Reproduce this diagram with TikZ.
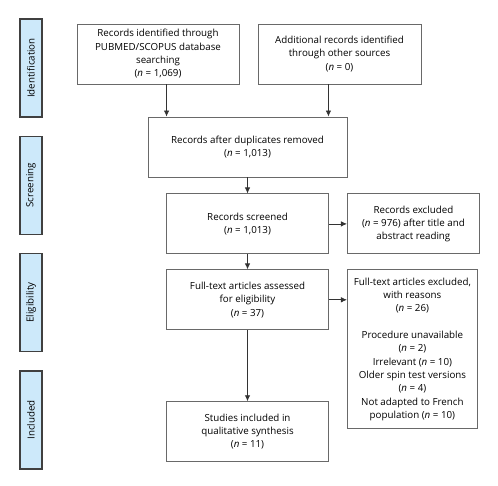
\documentclass[tikz,border=0pt]{standalone}
\usepackage{fontspec}
\setmainfont{Open Sans}
\usepackage{graphicx}
\usetikzlibrary{arrows.meta,positioning,calc}

\definecolor{stageblue}{RGB}{205,233,250}
\definecolor{boxgray}{RGB}{105,105,105}

\newcommand{\nval}[1]{(\textit{n} = #1)}

\begin{document}
\begin{tikzpicture}[x=1bp, y=-1bp, node distance=16bp, font=\fontsize{9.8}{13.4}\selectfont]
    % Styles
    \tikzstyle{box} = [rectangle, draw=boxgray, line width=0.9bp, align=center, minimum width=162bp, minimum height=60bp, inner sep=1bp]
    \tikzstyle{stage} = [rectangle, draw=black!75, fill=stageblue, line width=1.3bp, minimum width=22bp, minimum height=98bp, inner sep=0pt]
    \tikzstyle{arrow} = [-{Latex[length=6bp,width=5.5bp]}, draw=black!80, line width=0.8bp]

    \useasboundingbox (0,0) rectangle (498,486);

    % Stages
    \node [stage] (ident) at (31,68) {\rotatebox{90}{Identification}};
    \node [stage, below=18bp of ident] (screen) {\rotatebox{90}{Screening}};
    \node [stage, below=18bp of screen] (elig) {\rotatebox{90}{Eligibility}};
    \node [stage, below=18bp of elig] (incl) {\rotatebox{90}{Included}};

    % Identification
    \node [box] (db) at (158,54) {Records identified through\\PUBMED/SCOPUS database\\searching\\\nval{1,069}};
    \node [box, minimum width=163bp] (other) at (339.5,54) {Additional records identified\\through other sources\\\nval{0}};

    % Main column
    \node [box, minimum width=199bp] (dup) at (247.5,147) {Records after duplicates removed\\\nval{1,013}};
    \node [box, below=16bp of dup] (screened) {Records screened\\\nval{1,013}};
    \node [box, below=15bp of screened] (full) {Full-text articles assessed\\for eligibility\\\nval{37}};
    \node [box, below=71bp of full] (studies) {Studies included in\\qualitative synthesis\\\nval{11}};

    % Exclusions
    \node [box, minimum width=132bp, right=18bp of screened] (excl) {Records excluded\\\nval{976} after title and\\abstract reading};
    \node [box, minimum width=130bp, minimum height=159bp, right=18bp of full.north east, anchor=north west] (excl2) {Full-text articles excluded,\\with reasons\\\nval{26}\\[13.4bp]Procedure unavailable\\\nval{2}\\Irrelevant \nval{10}\\Older spin test versions\\\nval{4}\\Not adapted to French\\population \nval{10}};

    % Connections
    \coordinate (in1) at ($(dup.north west)+(19bp,0)$);
    \coordinate (in2) at ($(dup.north east)+(-19bp,0)$);
    \draw [arrow] (in1 |- db.south) -- (in1);
    \draw [arrow] (in2 |- other.south) -- (in2);
    \draw [arrow] (dup) -- (screened);
    \draw [arrow] (screened) -- (excl);
    \draw [arrow] (screened) -- (full);
    \draw [arrow] (full) -- (full -| excl2.west);
    \draw [arrow] (full) -- (studies);

\end{tikzpicture}
\end{document}
